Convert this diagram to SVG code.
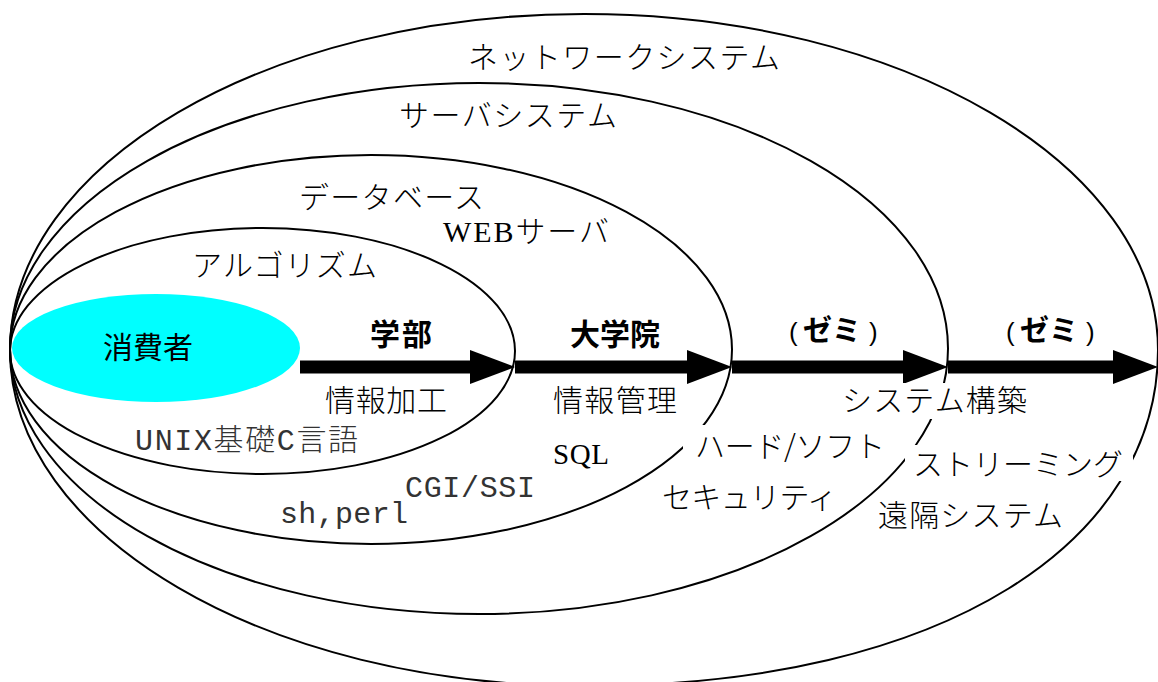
<svg xmlns="http://www.w3.org/2000/svg" width="1158" height="682" viewBox="0 0 1158 682">
<style>
.el{fill:none;stroke:#000;stroke-width:2}
.t{font-family:"Noto Sans CJK JP","Noto Sans CJK SC",sans-serif;font-size:30px;fill:#000;font-weight:300}
.b{font-weight:bold}
.m{font-family:"Liberation Mono","DejaVu Sans Mono",monospace;font-weight:normal}
.g{fill:#333}
.s{font-family:"Liberation Serif","DejaVu Serif",serif;font-weight:normal}
.p{font-family:"Liberation Sans",sans-serif;font-size:26px;font-weight:normal}
.bg{fill:#fff}
.arr{stroke:#000;stroke-width:13;fill:none;marker-end:url(#ah)}
</style>
<defs>
<marker id="ah" markerUnits="userSpaceOnUse" markerWidth="46" markerHeight="34" refX="20" refY="17" orient="auto" overflow="visible">
<path d="M0,0 L45,17 L0,34 Z" fill="#000"/>
</marker>
</defs>
<rect width="1158" height="682" fill="#fff"/>
<g id="consumer">
<ellipse cx="156" cy="348" rx="144" ry="54" fill="#00FFFF"/>
<text class="t" x="103" y="358" textLength="90" style="font-weight:normal">消費者</text>
</g>
<g id="network-system">
<path class="el" d="M10,350 C10,164.4 267,14 584,14 C901,14 1158,164.4 1158,350 C1158,538 951,686 584,686 C267,686 10,535.6 10,350 Z"/>
</g>
<g id="server-system">
<ellipse class="el" cx="479" cy="348.5" rx="469" ry="265.5"/>
</g>
<g id="database">
<ellipse class="el" cx="371" cy="349.5" rx="361" ry="194.5"/>
</g>
<g id="algorithm">
<ellipse class="el" cx="262.5" cy="351" rx="252.5" ry="123"/>
</g>
<g id="connectors">
<line class="arr" x1="300" y1="367" x2="490" y2="367"/>
<line class="arr" x1="515" y1="367" x2="707" y2="367"/>
<line class="arr" x1="732" y1="367" x2="923" y2="367"/>
<line class="arr" x1="948" y1="367" x2="1133" y2="367"/>
<text class="t b" x="370" y="345" textLength="62">学部</text>
<text class="t b" x="570" y="345" textLength="90">大学院</text>
<text class="t"><tspan class="p" x="789" y="341">(</tspan><tspan class="b" x="803" y="341" style="font-size:29px">ゼミ</tspan><tspan class="p" x="869" y="341">)</tspan></text>
<text class="t"><tspan class="p" x="1006" y="341">(</tspan><tspan class="b" x="1020" y="341" style="font-size:29px">ゼミ</tspan><tspan class="p" x="1086" y="341">)</tspan></text>
</g>
<g id="network-labels">
<text class="t" x="468" y="68" textLength="312">ネットワークシステム</text>
<rect class="bg" x="905" y="445" width="228" height="36"/>
<text class="t" x="913" y="475" textLength="210">ストリーミング</text>
<text class="t" x="878" y="526" textLength="185">遠隔システム</text>
<rect class="bg" x="838" y="383" width="195" height="36"/>
<text class="t" x="842" y="411" textLength="185">システム構築</text>
</g>
<g id="server-labels">
<text class="t" x="399" y="126" textLength="218">サーバシステム</text>
<rect class="bg" x="683" y="425" width="207" height="38"/>
<text class="t" x="695" y="457" textLength="190">ハード/ソフト</text>
<text class="t" x="662" y="508" textLength="175">セキュリティ</text>
</g>
<g id="database-labels">
<text class="t" x="299" y="208" textLength="185">データベース</text>
<text class="t" x="443" y="242" textLength="166"><tspan class="s">WEB</tspan>サーバ</text>
<text class="t" x="553" y="411" textLength="124">情報管理</text>
<text class="t s" x="553" y="464" textLength="56" style="font-size:29px">SQL</text>
<text class="t m g" x="405" y="497" textLength="130">CGI/SSI</text>
<text class="t m g" x="280" y="523" textLength="128">sh,perl</text>
</g>
<g id="algorithm-labels">
<text class="t" x="192" y="276" textLength="185">アルゴリズム</text>
<text class="t" x="325" y="411" textLength="122">情報加工</text>
<text class="t g" x="135" y="450" textLength="223"><tspan class="m">UNIX</tspan>基礎<tspan class="m">C</tspan>言語</text>
</g>
</svg>
